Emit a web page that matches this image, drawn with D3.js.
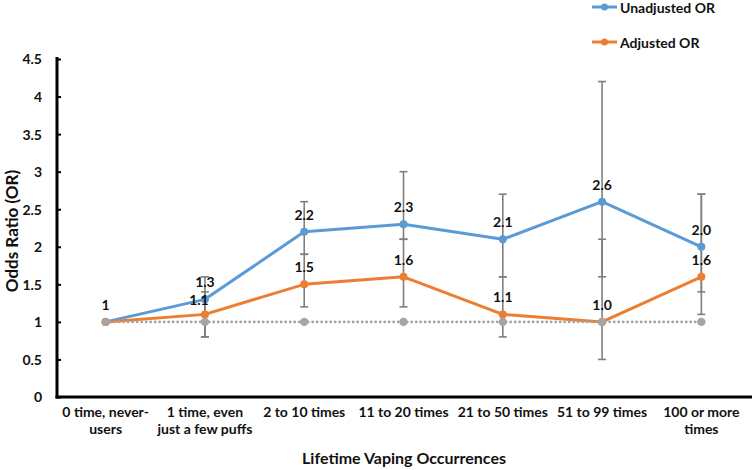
<!DOCTYPE html>
<html><head><meta charset="utf-8">
<script src="https://cdn.jsdelivr.net/npm/d3@7"></script>
<style>
html,body{margin:0;padding:0;background:#fff;}
text{font-family:Lato,"Open Sans",sans-serif;font-weight:bold;fill:#111;}
</style></head>
<body><svg id="c" width="752" height="470"></svg>
<script>
const categories = [["0 time, never-","users"],["1 time, even","just a few puffs"],["2 to 10 times"],["11 to 20 times"],["21 to 50 times"],["51 to 99 times"],["100 or more","times"]];
const unadjusted = [1, 1.3, 2.2, 2.3, 2.1, 2.6, 2.0];
const unadjLow   = [1, 0.8, 1.9, 2.1, 1.6, 1.6, 1.4];
const unadjHigh  = [1, 1.6, 2.6, 3.0, 2.7, 4.2, 2.7];
const adjusted   = [1, 1.1, 1.5, 1.6, 1.1, 1.0, 1.6];
const adjLow     = [1, 0.8, 1.2, 1.2, 0.8, 0.5, 1.1];
const adjHigh    = [1, 1.4, 1.9, 2.1, 1.6, 2.1, 2.7];
const reference  = [1, 1, 1, 1, 1, 1, 1];
const unadjLabels = ["1", "1.3", "2.2", "2.3", "2.1", "2.6", "2.0"];
const adjLabels   = ["", "1.1", "1.5", "1.6", "1.1", "1.0", "1.6"];
const yTicks = [0, 0.5, 1, 1.5, 2, 2.5, 3, 3.5, 4, 4.5];
const seriesNames = ["Unadjusted OR", "Adjusted OR"];

const svg = d3.select("#c");
const idx = d3.range(categories.length);
const x = d3.scalePoint().domain(idx).range([56, 751]).padding(0.5);
const y = d3.scaleLinear().domain([0, 4.5]).range([397, 59]);
const BLUE = "#5b9bd5", ORANGE = "#ed7d31", GREY = "#a5a5a5", BAR = "#7f7f7f";

function errorBars(lo, hi) {
  const g = svg.append("g").attr("stroke", BAR).attr("stroke-width", 1.6);
  idx.forEach(i => {
    if (lo[i] === hi[i]) return;
    g.append("line").attr("x1", x(i)).attr("x2", x(i)).attr("y1", y(lo[i])).attr("y2", y(hi[i]));
    [lo[i], hi[i]].forEach(v => g.append("line").attr("x1", x(i) - 4).attr("x2", x(i) + 4).attr("y1", y(v)).attr("y2", y(v)));
  });
}
errorBars(unadjLow, unadjHigh);
errorBars(adjLow, adjHigh);

function series(vals, color) {
  const line = d3.line().x((d, i) => x(i)).y(d => y(d));
  svg.append("path").datum(vals).attr("d", line).attr("fill", "none").attr("stroke", color).attr("stroke-width", 3).attr("stroke-linejoin", "round");
  svg.append("g").selectAll("circle").data(vals).join("circle").attr("cx", (d, i) => x(i)).attr("cy", d => y(d)).attr("r", 4).attr("fill", color);
}
series(unadjusted, BLUE);
series(adjusted, ORANGE);

svg.append("path").datum(reference).attr("d", d3.line().x((d, i) => x(i)).y(d => y(d)))
  .attr("fill", "none").attr("stroke", GREY).attr("stroke-width", 2.8).attr("stroke-dasharray", "0.1 4.4").attr("stroke-linecap", "round");
svg.append("g").selectAll("circle").data(reference).join("circle").attr("cx", (d, i) => x(i)).attr("cy", d => y(d)).attr("r", 4.2).attr("fill", GREY);

function labels(vals, labs, offsets) {
  svg.append("g").selectAll("text").data(labs).join("text")
    .attr("x", (d, i) => x(i) + (offsets[i] ? offsets[i][0] : 0))
    .attr("y", (d, i) => y(vals[i]) - 12 + (offsets[i] ? offsets[i][1] : 0))
    .attr("text-anchor", "middle").attr("font-size", 14).text(d => d);
}
labels(unadjusted, unadjLabels, {});
labels(adjusted, adjLabels, {1: [-6, 3]});

const yAxis = svg.append("g").attr("transform", "translate(57,0)")
  .call(d3.axisRight(y).tickValues(yTicks).tickSize(4).tickFormat(d3.format("")));
yAxis.select(".domain").remove();
yAxis.selectAll(".tick line").attr("stroke", "#000").attr("stroke-width", 2);
yAxis.selectAll(".tick text").attr("x", -15).attr("text-anchor", "end").attr("font-size", 14).attr("font-family", "Lato").attr("font-weight", "bold").attr("fill", "#111").attr("dy", "0.35em");
svg.append("line").attr("x1", 57).attr("x2", 57).attr("y1", 57).attr("y2", 398.5).attr("stroke", "#000").attr("stroke-width", 3);
svg.append("line").attr("x1", 55.5).attr("x2", 752).attr("y1", 397).attr("y2", 397).attr("stroke", "#000").attr("stroke-width", 3);

const xl = svg.append("g").selectAll("text").data(categories).join("text")
  .attr("x", (d, i) => x(i)).attr("y", 417).attr("text-anchor", "middle").attr("font-size", 14);
xl.each(function(d) {
  d3.select(this).selectAll("tspan").data(d).join("tspan")
    .attr("x", d3.select(this).attr("x")).attr("dy", (t, j) => j ? 17 : 0).text(t => t);
});

svg.append("text").attr("x", 404).attr("y", 464).attr("text-anchor", "middle").attr("font-size", 16).text("Lifetime Vaping Occurrences");
svg.append("text").attr("transform", "translate(18,231) rotate(-90)").attr("text-anchor", "middle").attr("font-size", 17).text("Odds Ratio (OR)");

const leg = svg.append("g");
[[BLUE, 7], [ORANGE, 42]].forEach(([c, yy], k) => {
  leg.append("line").attr("x1", 592).attr("x2", 617).attr("y1", yy).attr("y2", yy).attr("stroke", c).attr("stroke-width", 3);
  leg.append("circle").attr("cx", 604.5).attr("cy", yy).attr("r", 3.5).attr("fill", c);
  leg.append("text").attr("x", 620).attr("y", yy + 5.5).attr("font-size", 14).text(seriesNames[k]);
});
</script></body></html>
